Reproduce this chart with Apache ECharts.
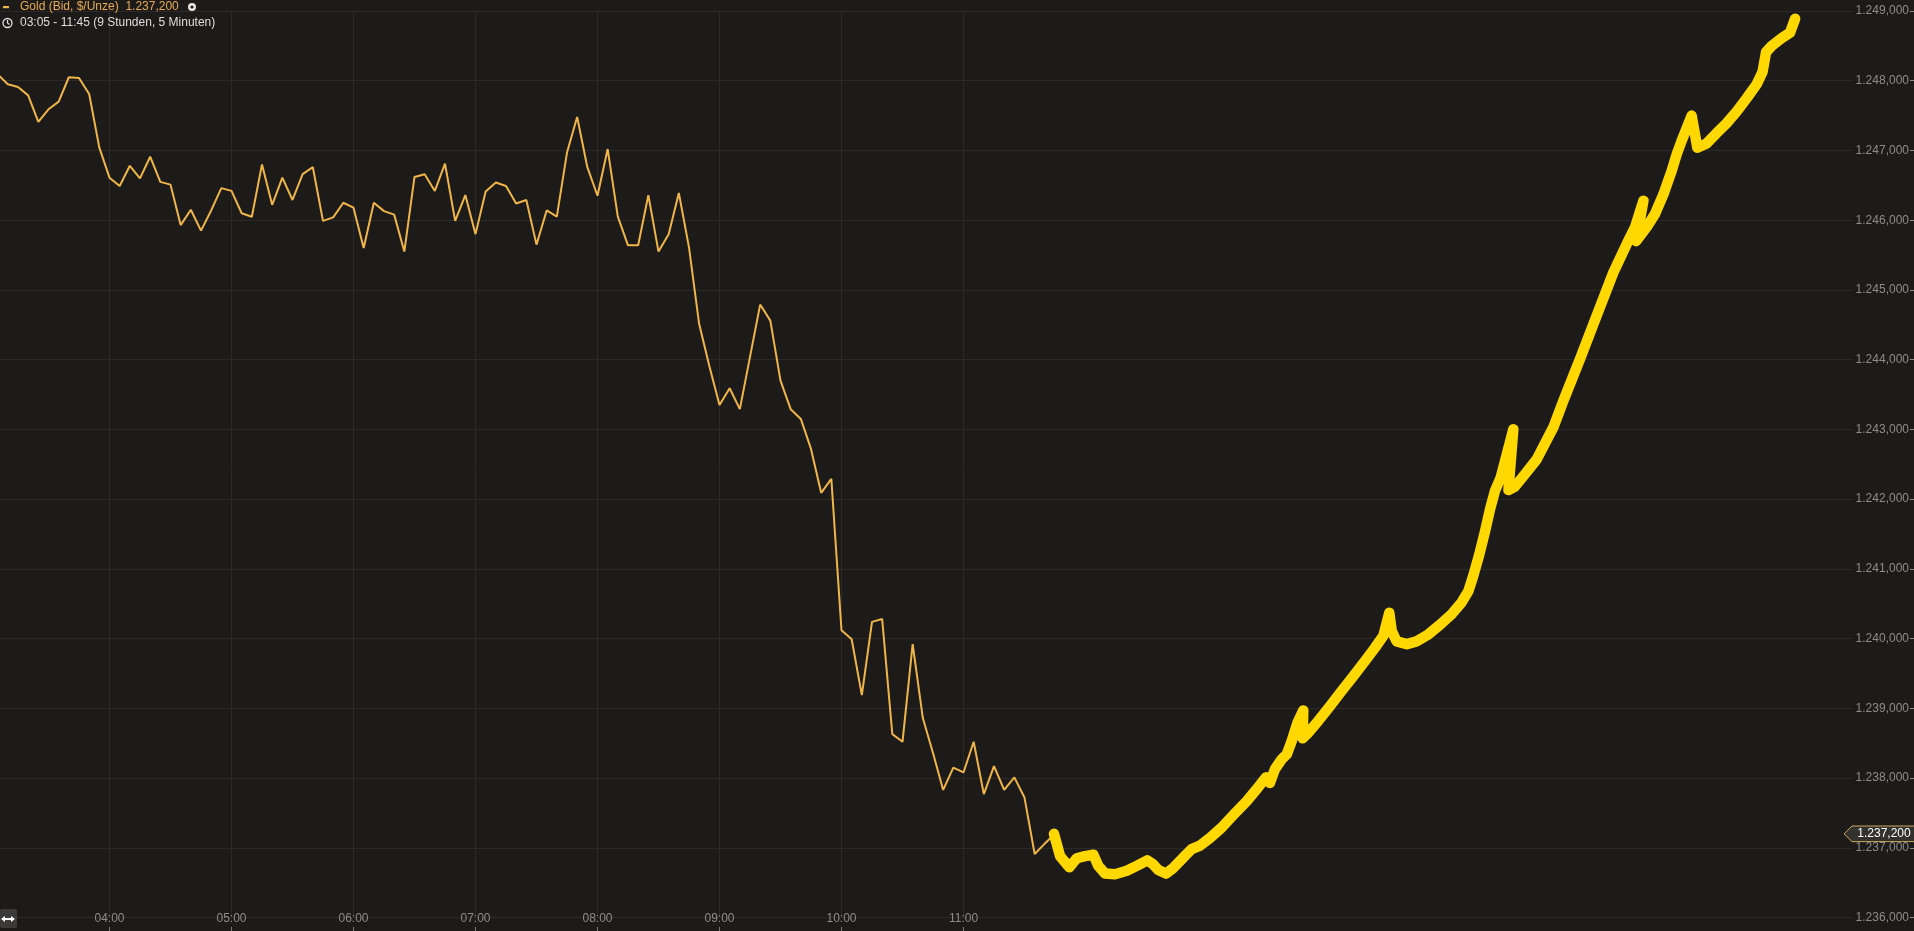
<!DOCTYPE html>
<html><head><meta charset="utf-8">
<script src="https://cdn.jsdelivr.net/npm/echarts@6/dist/echarts.min.js"></script>
<style>html,body{margin:0;padding:0;background:#1c1b1a;overflow:hidden}#c{width:1914px;height:931px}</style>
</head><body><div id="c"></div><script>
// ---- data ----
const seriesName = 'Gold (Bid, $/Unze)';
const periodText = '03:05 - 11:45 (9 Stunden, 5 Minuten)';
const startTime = '03:05';
const stepMinutes = 5;
// Gold bid, $/oz, 5-minute closes 03:05 .. 11:45
const goldBid = [
 1248.09,1247.95,1247.91,1247.79,1247.41,1247.59,1247.70,1248.05,1248.04,1247.81,
 1247.04,1246.61,1246.49,1246.78,1246.60,1246.91,1246.55,1246.51,1245.93,1246.15,
 1245.85,1246.14,1246.46,1246.42,1246.10,1246.05,1246.80,1246.22,1246.61,1246.29,
 1246.66,1246.76,1245.99,1246.04,1246.25,1246.18,1245.60,1246.25,1246.13,1246.08,
 1245.55,1246.62,1246.66,1246.42,1246.81,1245.99,1246.36,1245.80,1246.41,1246.54,
 1246.49,1246.24,1246.29,1245.65,1246.14,1246.05,1246.97,1247.48,1246.76,1246.35,
 1247.02,1246.05,1245.64,1245.64,1246.36,1245.55,1245.80,1246.39,1245.61,1244.51,
 1243.91,1243.35,1243.59,1243.29,1244.04,1244.79,1244.56,1243.70,1243.29,1243.15,
 1242.72,1242.09,1242.29,1240.12,1239.99,1239.19,1240.24,1240.28,1238.63,1238.52,
 1239.92,1238.86,1238.36,1237.83,1238.15,1238.08,1238.52,1237.77,1238.17,1237.83,
 1238.01,1237.72,1236.91,1237.06,1237.20
];
// hand-drawn projection (thick yellow stroke): minutes since midnight / $ per oz
const sketchTimes = [
 704.5,707.5,712.1,715.7,719.8,723.9,726.3,729.6,734.5,740.3,
 745.2,750.4,753.0,755.8,759.6,763.2,768.1,772.2,776.3,781.2,
 787.0,792.7,799.3,805.0,808.8,810.7,813.2,816.5,819.0,821.4,
 824.2,827.1,826.8,829.6,834.5,840.2,846.0,851.7,857.5,862.4,
 866.5,869.4,870.6,873.0,878.0,882.9,888.6,894.4,900.1,905.0,
 908.3,910.7,913.7,916.5,919.0,921.4,924.2,930.4,928.0,931.2,
 936.2,941.9,950.1,955.0,963.2,971.4,979.6,986.2,990.3,994.4,
 990.8,996.0,1000.1,1004.2,1008.3,1010.8,1013.2,1018.1,1020.9,1025.5,
 1030.4,1035.3,1040.3,1045.2,1050.1,1053.0,1054.7,1057.5,1062.4,1066.5,
 1069.0
];
const sketchValues = [
 1237.20,1236.88,1236.72,1236.85,1236.88,1236.90,1236.74,1236.63,1236.62,1236.67,
 1236.74,1236.82,1236.77,1236.68,1236.63,1236.71,1236.86,1236.98,1237.03,1237.14,
 1237.29,1237.47,1237.67,1237.87,1238.01,1237.93,1238.13,1238.27,1238.34,1238.53,
 1238.79,1238.97,1238.57,1238.65,1238.82,1239.03,1239.25,1239.46,1239.68,1239.87,
 1240.04,1240.37,1240.11,1239.96,1239.92,1239.96,1240.06,1240.20,1240.35,1240.52,
 1240.68,1240.90,1241.21,1241.54,1241.86,1242.12,1242.31,1243.00,1242.13,1242.18,
 1242.36,1242.57,1243.03,1243.41,1244.01,1244.63,1245.25,1245.66,1245.90,1246.28,
 1245.70,1245.90,1246.09,1246.37,1246.71,1246.95,1247.14,1247.50,1247.04,1247.10,
 1247.25,1247.39,1247.56,1247.75,1247.95,1248.13,1248.41,1248.50,1248.61,1248.69,
 1248.89
];
const xTickLabels = ['04:00','05:00','06:00','07:00','08:00','09:00','10:00','11:00'];
const yMin = 1236, yMax = 1249, yStep = 1;

// ---- helpers ----
function toMin(s){const p=s.split(':').map(Number);return p[0]*60+p[1];}
function fmtTime(v){const h=Math.floor(v/60),m=Math.round(v-h*60);return String(h).padStart(2,'0')+':'+String(m).padStart(2,'0');}
function fmtDE(v){const s=Number(v).toFixed(3).split('.');return s[0].replace(/\B(?=(\d{3})+(?!\d))/g,'.')+','+s[1];}

const t0 = toMin(startTime);
const goldData = goldBid.map((v,i)=>[t0+i*stepMinutes, v]);
const sketchData = sketchTimes.map((t,i)=>[t, sketchValues[i]]);
const last = goldBid[goldBid.length-1];
const tickValues = xTickLabels.map(toMin);

// ---- layout ----
const W = 1914;
const pxPerMin = 122/60;
const x0400 = 109.5;                     // pixel of the first labelled hour
const plotRight = 1853;
const axisStart = tickValues[0] - x0400/pxPerMin;
const axisEnd = axisStart + plotRight/pxPerMin;

const BG = '#1c1b1a', GRIDC = '#2b2a28', LABC = '#8e8c8a';
const FONT = '"Liberation Sans", Arial, sans-serif';

const chart = echarts.init(document.getElementById('c'), null, {renderer:'canvas'});
chart.setOption({
  backgroundColor: BG,
  animation: false,
  textStyle: {fontFamily: FONT},
  grid: {left:0, right:W-plotRight, top:11, bottom:13.5},
  xAxis: {type:'value', min:axisStart, max:axisEnd, offset:13.5,
     axisLine:{show:false},
     axisTick:{show:true, inside:true, length:4, customValues:tickValues, lineStyle:{color:'#7a7876'}},
     axisLabel:{inside:true, margin:6, color:LABC, fontSize:12, fontFamily:FONT, customValues:tickValues, formatter:fmtTime},
     splitLine:{show:true, lineStyle:{color:GRIDC, width:1}}},
  yAxis: {type:'value', position:'right', min:yMin, max:yMax, interval:yStep, offset:57,
     axisLine:{show:false},
     axisTick:{show:true, length:4, lineStyle:{color:LABC}},
     axisLabel:{inside:true, margin:1, color:LABC, fontSize:12, fontFamily:FONT, formatter:fmtDE},
     splitLine:{show:true, lineStyle:{color:GRIDC, width:1}}},
  series: [
    {name:seriesName, type:'line', data:goldData, clip:false,
     symbol:'none', showSymbol:false, lineStyle:{color:'#f0b548', width:2}, z:3, silent:true},
    {name:'Skizze', type:'line', data:sketchData, clip:false,
     symbol:'none', showSymbol:false, silent:true, z:4,
     lineStyle:{color:'#ffd800', width:10.5, cap:'round', join:'round'}}
  ]
});

// last-price tag at the right edge, placed through the value axis
const py = chart.convertToPixel({yAxisIndex:0}, last);
const px = chart.convertToPixel({xAxisIndex:0}, axisEnd);
chart.setOption({
  graphic: [
    {type:'rect', shape:{x:3, y:6, width:6, height:2.2}, style:{fill:'#f0b548'}},
    {type:'text', left:20, top:1, style:{text:seriesName + '  ' + fmtDE(last), fill:'#e9aa52', font:'12px '+FONT}},
    {type:'circle', shape:{cx:192, cy:7, r:4}, style:{fill:'#e6e6e6'}},
    {type:'circle', shape:{cx:192, cy:7, r:1.6}, style:{fill:'#1c1b1a'}},
    {type:'circle', shape:{cx:7.5, cy:23, r:4.5}, style:{fill:'none', stroke:'#e0e0e0', lineWidth:1.3}},
    {type:'polyline', shape:{points:[[7.5,20],[7.5,23],[9.5,24.5]]}, style:{fill:'none', stroke:'#e0e0e0', lineWidth:1.2}},
    {type:'text', left:20, top:17, style:{text:periodText, fill:'#dedede', font:'12px '+FONT}},
    {type:'rect', shape:{x:0, y:909, width:17, height:19, r:2}, style:{fill:'#3c3b3a'}},
    {type:'polyline', shape:{points:[[2,919],[14,919]]}, style:{stroke:'#ffffff', lineWidth:2}},
    {type:'polygon', shape:{points:[[1,919],[5,916],[5,922]]}, style:{fill:'#ffffff'}},
    {type:'polygon', shape:{points:[[15,919],[11,916],[11,922]]}, style:{fill:'#ffffff'}},
    {type:'polygon', z:100, shape:{points:[[px-9,py],[px-1,py-7.8],[W+2,py-7.8],[W+2,py+7.8],[px-1,py+7.8]]},
     style:{fill:'#32312e', stroke:'#cda75e', lineWidth:1}},
    {type:'text', z:101, x:px+31, y:py, style:{text:fmtDE(last), fill:'#ffffff', font:'12px '+FONT, align:'center', verticalAlign:'middle'}}
  ]
});
</script></body></html>
